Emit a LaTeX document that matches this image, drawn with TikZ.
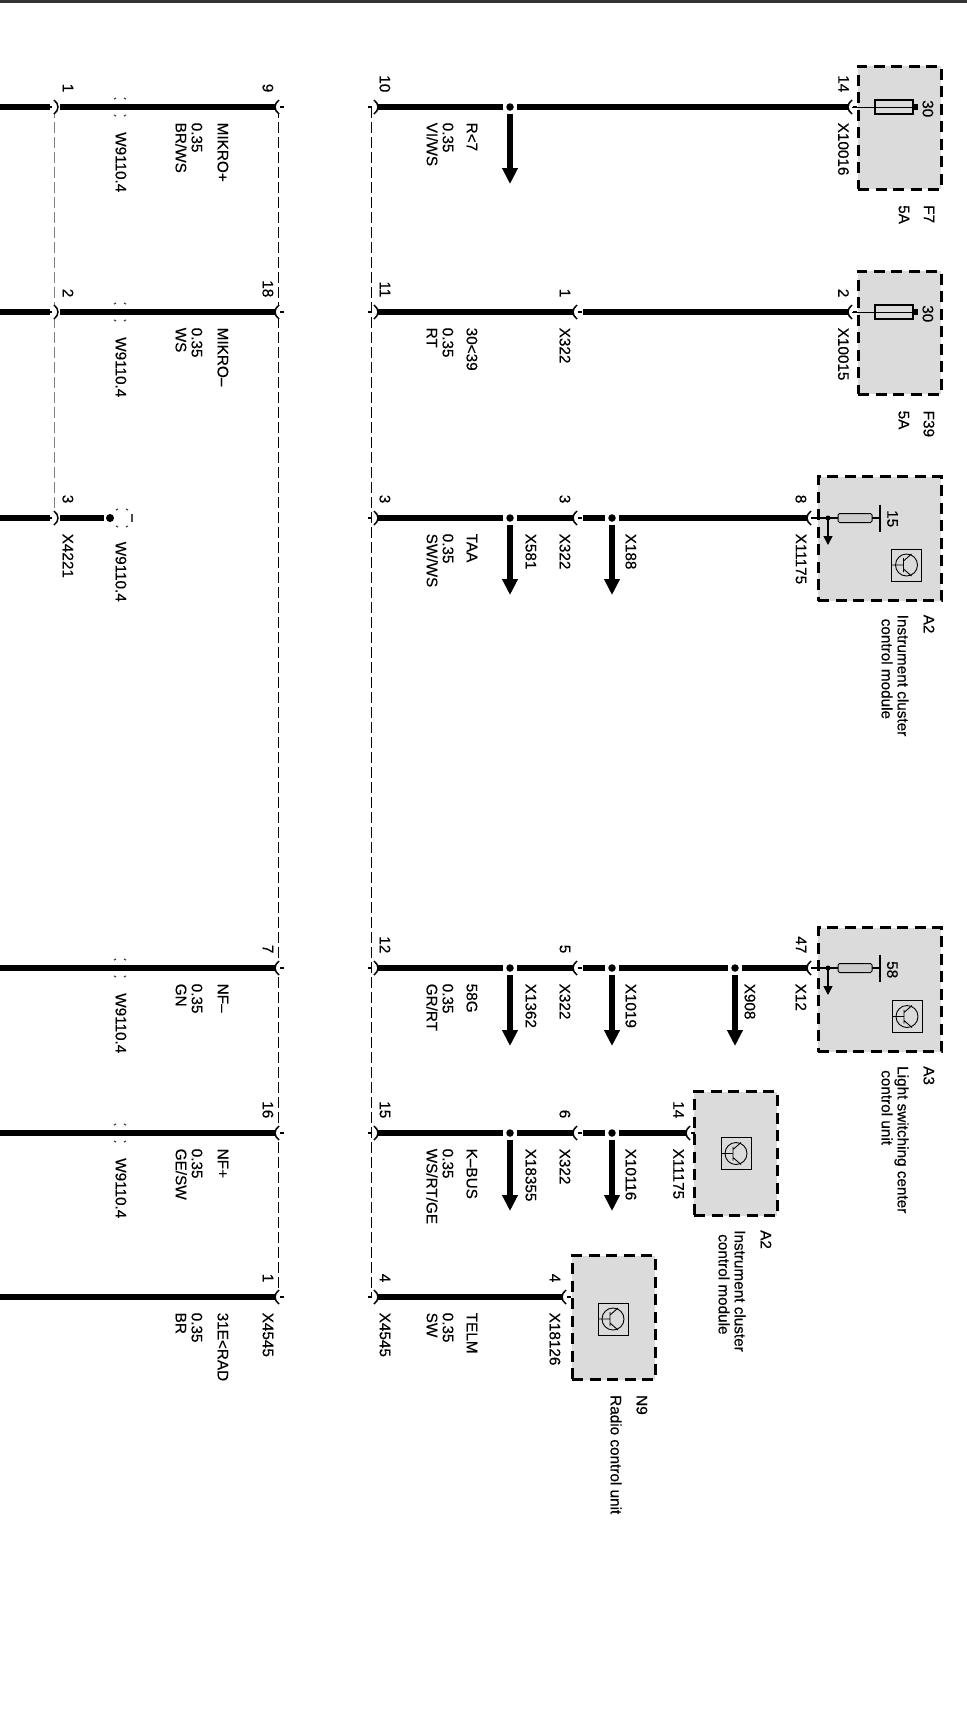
\documentclass[tikz,border=0pt]{standalone}
\usepackage{fontspec}
\setmainfont{Liberation Sans}[FakeBold=0.4]
\usetikzlibrary{arrows.meta}
\definecolor{boxgray}{gray}{0.86}
\tikzset{
 wire/.style={line width=5.8pt},
 trunk/.style={line width=1pt, dash pattern=on 11pt off 4pt},
 trunkgray/.style={trunk, color=black!50},
 module/.style={draw, fill=boxgray, line width=3pt, dash pattern=on 11pt off 6.5pt, inner sep=0pt, outer sep=0pt},
 lbl/.style={rotate=-90, inner sep=0pt, anchor=north west, align=left, font=\fontsize{15.3}{16}\selectfont},
 pinlbl/.style={lbl, anchor=north east},
 junction/.style={circle, fill, inner sep=0pt, minimum size=7.5pt, outer sep=3pt},
 branch/.style={line width=6pt, -{Triangle[width=15pt,length=16pt]}},
 sockL/.pic={
  \fill[white] (0,-6) rectangle (5,6);
  \draw[line width=1.5pt] (4,-7) .. controls (-1.3,-3) and (-1.3,3) .. (4,7);
  \draw[line width=1.5pt] (5,0) -- (9,0);
 },
 sockR/.pic={
  \fill[white] (-5,-6) rectangle (0,6);
  \draw[line width=1.5pt] (-4,-7) .. controls (1.3,-3) and (1.3,3) .. (-4,7);
  \draw[line width=1.5pt] (-10,0) -- (-6,0);
 },
 shieldmark/.pic={
  \draw[line width=1.2pt, color=black!70] (-6,-8) -- (-4,-9) (4,-9) -- (6,-8) (-6,8) -- (-4,9) (4,9) -- (6,8);
 },
 fuseF/.pic={
  \draw[line width=1pt] (4,0) -- (65,0);
  \draw[line width=1.2pt] (27,-7) rectangle (65,7);
  \draw[line width=6pt] (65,0) -- (70,0);
 },
 fuseA/.pic={
  \draw[line width=1.2pt] (4,0) -- (31,0) (65,0) -- (73,0);
  \draw[line width=1pt, fill=black!20, rounded corners=1.5pt] (31,-4.5) rectangle (65,4.5);
  \draw[line width=1.2pt] (73,-13.5) -- (73,13.5);
  \fill (21,0) circle (2.5);
  \draw[line width=1.4pt, -{Triangle[width=9pt,length=9pt]}] (21,0) -- (21,27);
 },
 transistor/.pic={
  \draw[line width=0.9pt] (-15,-16) rectangle (15,16);
  \draw[line width=0.9pt] (0,0) circle (11);
  \draw[line width=0.9pt] (-15,0) -- (-3,0) (-3,-7) -- (-3,7) (-3,-4) -- (5,-11) (-3,4) -- (5,11);
 },
}
\begin{document}
\begin{tikzpicture}[x=1pt, y=-1pt]
 \useasboundingbox (0,0) rectangle (967,1709);
 \coordinate (ruleL) at (0,1.2);
 \coordinate (ruleR) at (967,1.2);
 \draw[line width=2.6pt, color=black!80] (ruleL) -- (ruleR);

 % boxes
 \node[module, minimum width=83pt, minimum height=123pt] (boxF7) at (899.5,127.5) {};
 \node[module, minimum width=83pt, minimum height=123pt] (boxF39) at (899.5,332.5) {};
 \node[module, minimum width=123pt, minimum height=124pt] (boxA2) at (879.5,538.5) {};
 \node[module, minimum width=123pt, minimum height=124pt] (boxA3) at (879.5,989.5) {};
 \node[module, minimum width=83pt, minimum height=124pt] (boxA2b) at (735.5,1153.5) {};
 \node[module, minimum width=83pt, minimum height=124pt] (boxN9) at (613.5,1317.5) {};

 % trunk lines
 \coordinate (ka) at (54,107);
 \coordinate (kc) at (54,518);
 \coordinate (ta) at (278,107);
 \coordinate (tf) at (278,1297);
 \coordinate (ua) at (371,107);
 \coordinate (uf) at (371,1297);
 \draw[trunkgray] (ka) -- (kc);
 \draw[trunk] (ta) -- (tf);
 \draw[trunk] (ua) -- (uf);

 % row a
 \coordinate (a0) at (0,107);
 \coordinate (a1) at (50,107);
 \coordinate (a2) at (60,107);
 \coordinate (ma) at (275,107);
 \coordinate (na) at (378,107);
 \node[junction] (ja) at (510,107) {};
 \coordinate (ea) at (510,184);
 \coordinate (fa) at (848,107);
 \draw[wire] (a0) -- (a1);
 \draw[wire] (a2) -- (ma);
 \draw[wire] (na) -- (ja);
 \draw[wire] (ja) -- (fa);
 \draw[branch] (ja) -- (ea);

 % row b
 \coordinate (b0) at (0,312);
 \coordinate (b1) at (50,312);
 \coordinate (b2) at (60,312);
 \coordinate (mb) at (275,312);
 \coordinate (nb) at (378,312);
 \coordinate (qb) at (573,312);
 \coordinate (rb) at (583,312);
 \coordinate (fb) at (848,312);
 \draw[wire] (b0) -- (b1);
 \draw[wire] (b2) -- (mb);
 \draw[wire] (nb) -- (qb);
 \draw[wire] (rb) -- (fb);

 % row c
 \coordinate (c0) at (0,518);
 \coordinate (c1) at (50,518);
 \coordinate (c2) at (60,518);
 \node[circle, fill, inner sep=0pt, minimum size=8pt, outer sep=2pt] (jshield) at (110,518) {};
 \coordinate (nc) at (378,518);
 \node[junction] (jc1) at (510,518) {};
 \coordinate (ec1) at (510,595);
 \coordinate (qc) at (573,518);
 \coordinate (rc) at (583,518);
 \node[junction] (jc2) at (612,518) {};
 \coordinate (ec2) at (612,595);
 \coordinate (fc) at (807,518);
 \draw[wire] (c0) -- (c1);
 \draw[wire] (c2) -- (jshield);
 \draw[wire] (nc) -- (jc1);
 \draw[wire] (jc1) -- (qc);
 \draw[wire] (rc) -- (jc2);
 \draw[wire] (jc2) -- (fc);
 \draw[branch] (jc1) -- (ec1);
 \draw[branch] (jc2) -- (ec2);

 % row d
 \coordinate (d0) at (0,968);
 \coordinate (md) at (275,968);
 \coordinate (nd) at (378,968);
 \node[junction] (jd1) at (510,968) {};
 \coordinate (ed1) at (510,1046);
 \coordinate (qd) at (573,968);
 \coordinate (rd) at (583,968);
 \node[junction] (jd2) at (612,968) {};
 \coordinate (ed2) at (612,1046);
 \node[junction] (jd3) at (735,968) {};
 \coordinate (ed3) at (735,1046);
 \coordinate (fd) at (807,968);
 \draw[wire] (d0) -- (md);
 \draw[wire] (nd) -- (jd1);
 \draw[wire] (jd1) -- (qd);
 \draw[wire] (rd) -- (jd2);
 \draw[wire] (jd2) -- (jd3);
 \draw[wire] (jd3) -- (fd);
 \draw[branch] (jd1) -- (ed1);
 \draw[branch] (jd2) -- (ed2);
 \draw[branch] (jd3) -- (ed3);

 % row e
 \coordinate (e0) at (0,1133);
 \coordinate (me) at (275,1133);
 \coordinate (ne) at (378,1133);
 \node[junction] (je1) at (510,1133) {};
 \coordinate (ee1) at (510,1211);
 \coordinate (qe) at (573,1133);
 \coordinate (re) at (583,1133);
 \node[junction] (je2) at (612,1133) {};
 \coordinate (ee2) at (612,1211);
 \coordinate (fe) at (686,1133);
 \draw[wire] (e0) -- (me);
 \draw[wire] (ne) -- (je1);
 \draw[wire] (je1) -- (qe);
 \draw[wire] (re) -- (je2);
 \draw[wire] (je2) -- (fe);
 \draw[branch] (je1) -- (ee1);
 \draw[branch] (je2) -- (ee2);

 % row f
 \coordinate (f0) at (0,1297);
 \coordinate (mf) at (275,1297);
 \coordinate (nf) at (378,1297);
 \coordinate (ff) at (562,1297);
 \draw[wire] (f0) -- (mf);
 \draw[wire] (nf) -- (ff);

 % connectors
 \pic at (58,107) {sockR};
 \pic at (58,312) {sockR};
 \pic at (58,518) {sockR};
 \pic at (ma) {sockL};
 \pic at (mb) {sockL};
 \pic at (md) {sockL};
 \pic at (me) {sockL};
 \pic at (mf) {sockL};
 \pic at (na) {sockR};
 \pic at (nb) {sockR};
 \pic at (nc) {sockR};
 \pic at (nd) {sockR};
 \pic at (ne) {sockR};
 \pic at (nf) {sockR};
 \pic at (qb) {sockL};
 \pic at (qc) {sockL};
 \pic at (qd) {sockL};
 \pic at (qe) {sockL};
 \pic at (fa) {sockL};
 \pic at (fb) {sockL};
 \pic at (fc) {sockL};
 \pic at (fd) {sockL};
 \pic at (fe) {sockL};
 \pic at (ff) {sockL};

 % shields
 \pic at (120,107) {shieldmark};
 \pic at (120,312) {shieldmark};
 \pic at (120,968) {shieldmark};
 \pic at (120,1133) {shieldmark};
 \pic at (122,518) {shieldmark};
 \coordinate (shtop) at (132,514);
 \coordinate (shbot) at (132,522);
 \draw[line width=1.2pt, color=black!70] (shtop) -- (shbot);

 % parts in the boxes
 \pic at (fa) {fuseF};
 \pic at (fb) {fuseF};
 \pic at (fc) {fuseA};
 \pic at (fd) {fuseA};
 \pic at (906.5,565) {transistor};
 \pic at (907,1016.5) {transistor};
 \pic at (736,1153.5) {transistor};
 \pic at (613,1319) {transistor};
 \node[lbl] (t30a) at (933.5,100) {30};
 \node[lbl] (t30b) at (933.5,305) {30};
 \node[lbl] (t15) at (898,510) {15};
 \node[lbl] (t58) at (898,961) {58};

 % box names
 \node[lbl] (nameF7) at (934.5,205) {F7\\[9pt]5A};
 \node[lbl] (nameF39) at (934.5,410.5) {F39\\[9pt]5A};
 \node[lbl] (nameA2) at (934.5,614.5) {A2\\[10pt]Instrument cluster\\\hspace*{4pt}control module};
 \node[lbl] (nameA3) at (934.5,1066) {A3\\[10pt]Light switching center\\\hspace*{4pt}control unit};
 \node[lbl] (nameA2b) at (771.5,1230) {A2\\[10pt]Instrument cluster\\\hspace*{4pt}control module};
 \node[lbl] (nameN9) at (647.5,1395) {N9\\[10pt]Radio control unit};

 % pin numbers
 \node[pinlbl] (pa1) at (73.5,92.5) {1};
 \node[pinlbl] (pb1) at (73.5,297.5) {2};
 \node[pinlbl] (pc1) at (73.5,503.5) {3};
 \node[pinlbl] (pa2) at (273.5,92.5) {9};
 \node[pinlbl] (pb2) at (273.5,297.5) {18};
 \node[pinlbl] (pd2) at (273.5,953.5) {7};
 \node[pinlbl] (pe2) at (273.5,1118.5) {16};
 \node[pinlbl] (pf2) at (273.5,1282.5) {1};
 \node[pinlbl] (pa3) at (390.5,92.5) {10};
 \node[pinlbl] (pb3) at (390.5,297.5) {11};
 \node[pinlbl] (pc3) at (390.5,503.5) {3};
 \node[pinlbl] (pd3) at (390.5,953.5) {12};
 \node[pinlbl] (pe3) at (390.5,1118.5) {15};
 \node[pinlbl] (pf3) at (390.5,1282.5) {4};
 \node[pinlbl] (pb4) at (570.5,297.5) {1};
 \node[pinlbl] (pc4) at (570.5,503.5) {3};
 \node[pinlbl] (pd4) at (570.5,953.5) {5};
 \node[pinlbl] (pe4) at (570.5,1118.5) {6};
 \node[pinlbl] (pa5) at (849,92.5) {14};
 \node[pinlbl] (pb5) at (849,297.5) {2};
 \node[pinlbl] (pc5) at (806.5,503.5) {8};
 \node[pinlbl] (pd5) at (806.5,953.5) {47};
 \node[pinlbl] (pe5) at (684,1118.5) {14};
 \node[pinlbl] (pf5) at (560.5,1282.5) {4};

 % connector names
 \node[lbl] (xa5) at (849,122.5) {X10016};
 \node[lbl] (xb5) at (849,327.5) {X10015};
 \node[lbl] (xc5) at (806.5,533.5) {X11175};
 \node[lbl] (xd5) at (806.5,983.5) {X12};
 \node[lbl] (xe5) at (684,1148.5) {X11175};
 \node[lbl] (xf5) at (560.5,1312.5) {X18126};
 \node[lbl] (xb4) at (570.5,327.5) {X322};
 \node[lbl] (xc4) at (570.5,533.5) {X322};
 \node[lbl] (xd4) at (570.5,983.5) {X322};
 \node[lbl] (xe4) at (570.5,1148.5) {X322};
 \node[lbl] (xf3) at (390.5,1312.5) {X4545};
 \node[lbl] (xf2) at (273.5,1312.5) {X4545};
 \node[lbl] (xc1) at (73.5,533.5) {X4221};
 \node[lbl] (xc6) at (536.5,533.5) {X581};
 \node[lbl] (xd6) at (536.5,983.5) {X1362};
 \node[lbl] (xe6) at (536.5,1148.5) {X18355};
 \node[lbl] (xc7) at (636.5,533.5) {X188};
 \node[lbl] (xd7) at (636.5,983.5) {X1019};
 \node[lbl] (xe7) at (636.5,1148.5) {X10116};
 \node[lbl] (xd8) at (755.5,983.5) {X908};

 % shield names
 \node[lbl] (wa) at (126.5,132) {W9110.4};
 \node[lbl] (wb) at (126.5,337) {W9110.4};
 \node[lbl] (wc) at (126.5,541.5) {W9110.4};
 \node[lbl] (wd) at (126.5,993) {W9110.4};
 \node[lbl] (we) at (126.5,1158) {W9110.4};

 % wire names
 \node[lbl] (sa1) at (477.5,122.5) {R<7\\[8pt]0.35\\VI/WS};
 \node[lbl] (sb1) at (477.5,327.5) {30<39\\[8pt]0.35\\RT};
 \node[lbl] (sc1) at (477.5,533.5) {TAA\\[8pt]0.35\\SW/WS};
 \node[lbl] (sd1) at (477.5,983.5) {58G\\[8pt]0.35\\GR/RT};
 \node[lbl] (se1) at (477.5,1148.5) {K–BUS\\[8pt]0.35\\WS/RT/GE};
 \node[lbl] (sf1) at (477.5,1312.5) {TELM\\[8pt]0.35\\SW};
 \node[lbl] (sa2) at (228.5,122.5) {MIKRO+\\[10pt]0.35\\BR/WS};
 \node[lbl] (sb2) at (228.5,327.5) {MIKRO–\\[10pt]0.35\\WS};
 \node[lbl] (sd2) at (228.5,983.5) {NF–\\[10pt]0.35\\GN};
 \node[lbl] (se2) at (228.5,1148.5) {NF+\\[10pt]0.35\\GE/SW};
 \node[lbl] (sf2) at (228.5,1312.5) {31E<RAD\\[10pt]0.35\\BR};
\end{tikzpicture}
\end{document}
